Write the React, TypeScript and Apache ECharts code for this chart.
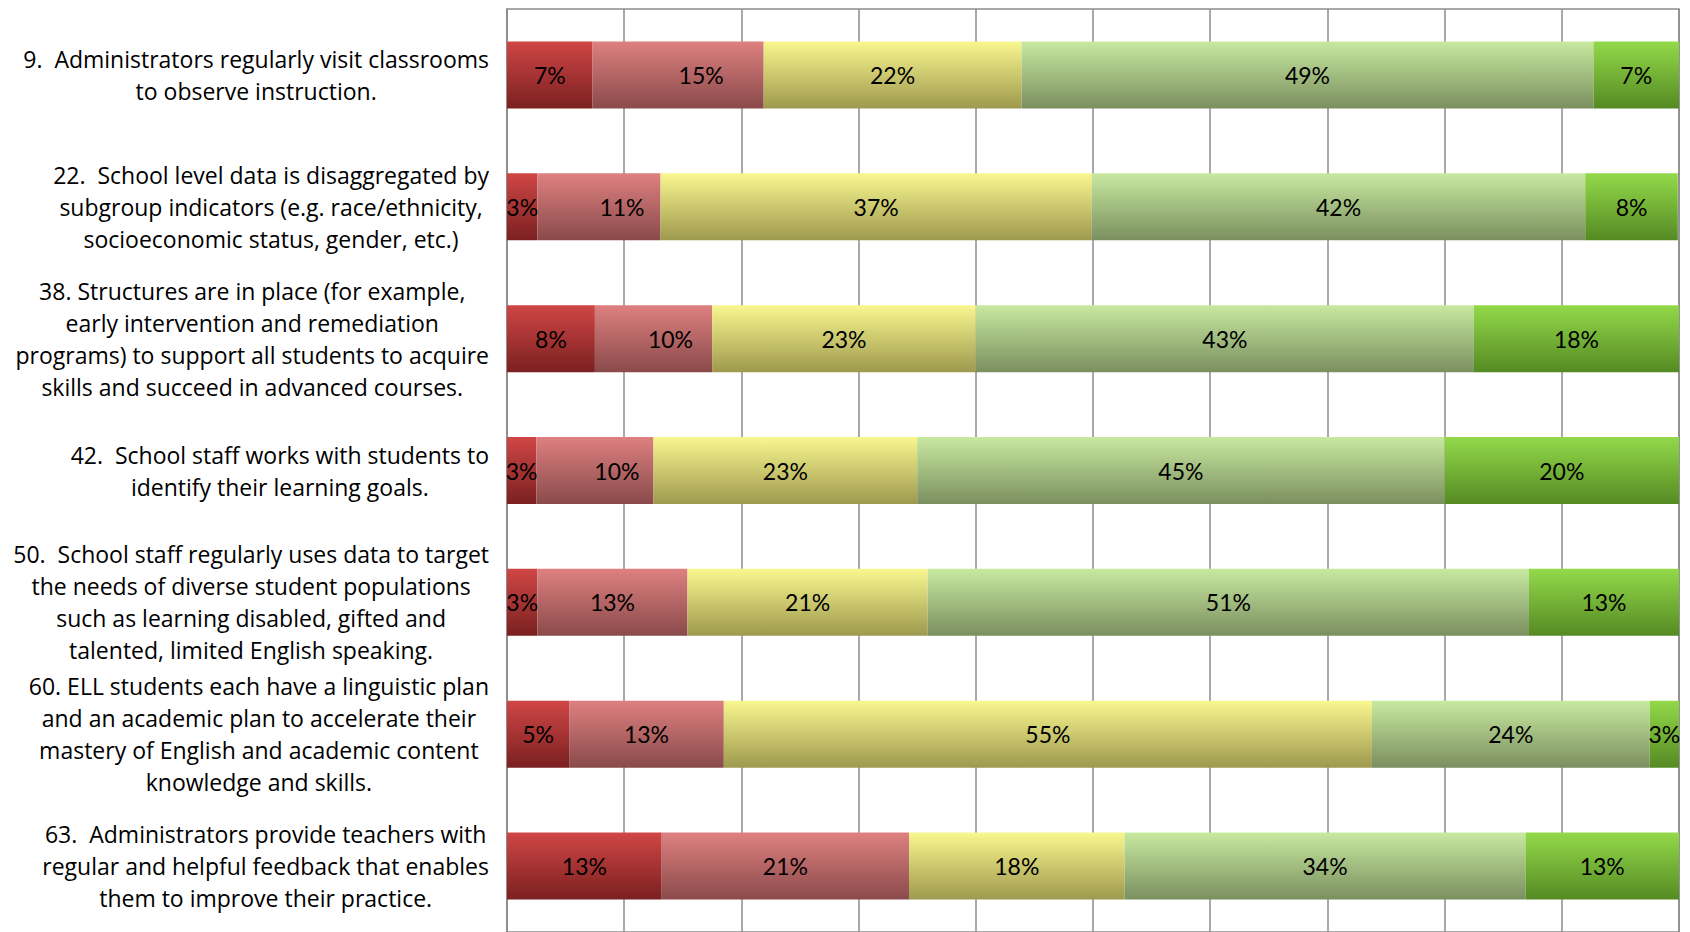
import React, { useEffect, useRef } from "react";
import * as echarts from "echarts";

const categories: string[] = [
  "9.  Administrators regularly visit classrooms\nto observe instruction.",
  "22.  School level data is disaggregated by\nsubgroup indicators (e.g. race/ethnicity,\nsocioeconomic status, gender, etc.)",
  "38. Structures are in place (for example,\nearly intervention and remediation\nprograms) to support all students to acquire\nskills and succeed in advanced courses.",
  "42.  School staff works with students to\nidentify their learning goals.",
  "50.  School staff regularly uses data to target\nthe needs of diverse student populations\nsuch as learning disabled, gifted and\ntalented, limited English speaking.",
  "60. ELL students each have a linguistic plan\nand an academic plan to accelerate their\nmastery of English and academic content\nknowledge and skills.",
  "63.  Administrators provide teachers with\nregular and helpful feedback that enables\nthem to improve their practice.",
];

const seriesNames: string[] = ["Strongly Disagree", "Disagree", "Neutral", "Agree", "Strongly Agree"];

const stronglyDisagree: number[] = [7.3, 2.6, 7.5, 2.5, 2.6, 5.3, 13.2];
const disagree: number[] = [14.6, 10.5, 10.0, 10.0, 12.8, 13.2, 21.1];
const neutral: number[] = [22.0, 36.8, 22.5, 22.5, 20.5, 55.3, 18.4];
const agree: number[] = [48.8, 42.1, 42.5, 45.0, 51.3, 23.7, 34.2];
const stronglyAgree: number[] = [7.3, 7.9, 17.5, 20.0, 12.8, 2.6, 13.2];

const seriesData: number[][] = [stronglyDisagree, disagree, neutral, agree, stronglyAgree];

// style: horizontal nudge (px) of the "Disagree" data labels, as placed in the original
const disagreeLabelShift: number[] = [23, 23, 17, 22, 0, 0, 0];

const gradientStops: [string, string][] = [
  ["#D04646", "#7B2020"],
  ["#DE8080", "#8A4A4A"],
  ["#F9F78F", "#9E994E"],
  ["#C8E9A0", "#7A8F5F"],
  ["#93D94A", "#558A23"],
];

const CAT_FONT = "'Open Sans', Lato, sans-serif";
const VAL_FONT = "Lato, 'Open Sans', sans-serif";

export default function App() {
  const ref = useRef<HTMLDivElement>(null);

  useEffect(() => {
    if (!ref.current) return;
    const chart = echarts.init(ref.current, undefined, { renderer: "svg" });
    const option: any = {
      animation: false,
      backgroundColor: "#ffffff",
      grid: {
        left: 507,
        top: 9,
        width: 1172,
        height: 924,
        show: true,
        borderColor: "#8c8c8c",
        borderWidth: 1.5,
        containLabel: false,
      },
      xAxis: {
        type: "value",
        min: 0,
        max: 100,
        interval: 10,
        axisLabel: { show: false },
        axisTick: { show: false },
        axisLine: { show: false },
        splitLine: { show: true, lineStyle: { color: "#8c8c8c", width: 1.5 } },
      },
      yAxis: {
        type: "category",
        inverse: true,
        data: categories,
        axisTick: { show: false },
        axisLine: { show: true, lineStyle: { color: "#8c8c8c", width: 1.5 } },
        axisLabel: {
          margin: 18,
          align: "right",
          verticalAlign: "middle",
          formatter: (v: string) =>
            v
              .split("\n")
              .map((l) => "{c|" + l + "}")
              .join("\n"),
          rich: {
            c: {
              align: "center",
              fontFamily: CAT_FONT,
              fontSize: 23,
              lineHeight: 32,
              color: "#000000",
            },
          },
        },
      },
      series: seriesData.map((d, i) => ({
        name: seriesNames[i],
        type: "bar",
        stack: "total",
        barWidth: 67,
        data: d.map((v, j) =>
          i === 1 && disagreeLabelShift[j]
            ? { value: v, label: { offset: [disagreeLabelShift[j], 0] } }
            : v
        ),
        itemStyle: {
          color: new echarts.graphic.LinearGradient(0, 0, 0, 1, [
            { offset: 0, color: gradientStops[i][0] },
            { offset: 1, color: gradientStops[i][1] },
          ]),
        },
        label: {
          show: true,
          position: "inside",
          color: "#000000",
          fontFamily: VAL_FONT,
          fontSize: 23,
          formatter: (p: any) => Math.round(p.value) + "%",
        },
      })),
    };
    chart.setOption(option);
    return () => chart.dispose();
  }, []);

  return (
    <div
      ref={ref}
      style={{ position: "absolute", left: 0, top: 0, width: 1690, height: 932, background: "#fff" }}
    />
  );
}
